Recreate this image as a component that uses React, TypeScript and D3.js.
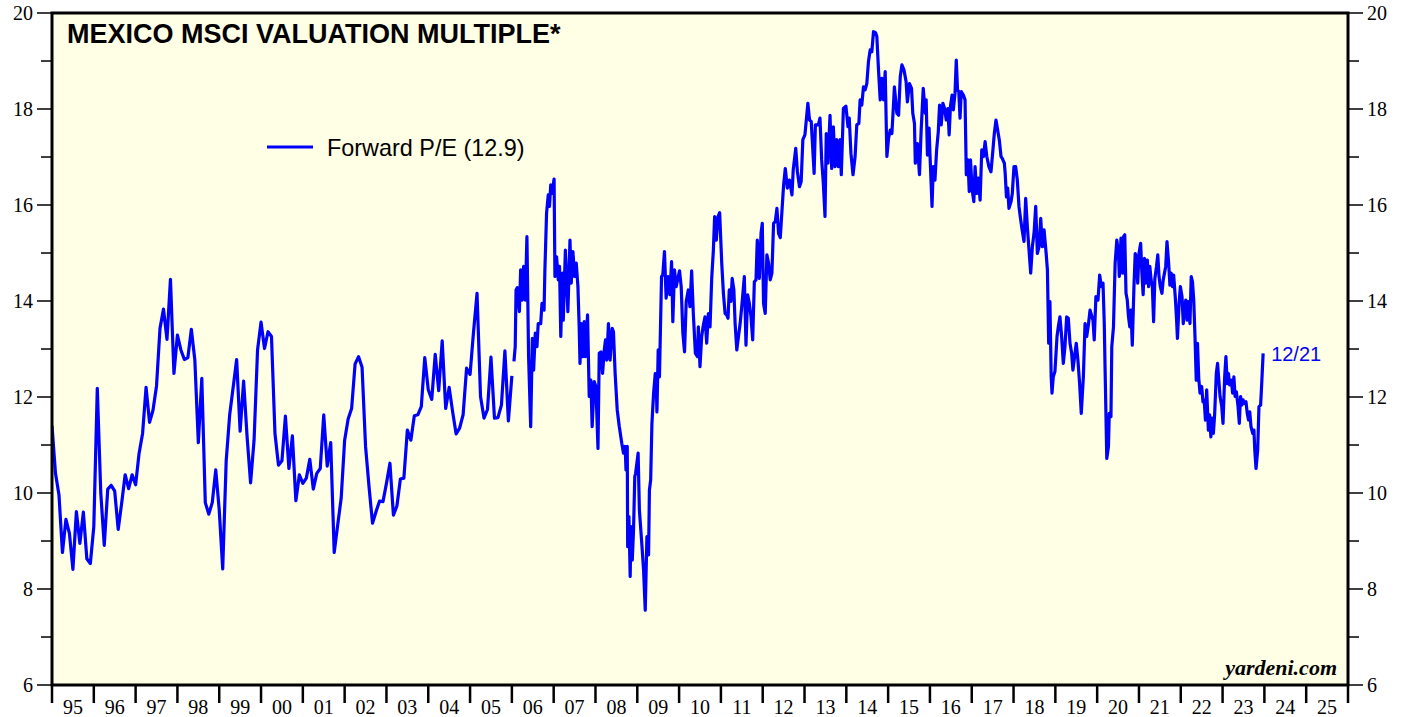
import React from 'react';
import * as d3 from 'd3';

// Monthly forward P/E, Jan 1995 .. Jan 2006
const monthlyPE = [
  11.40, 10.41, 9.96, 8.76, 9.45, 9.16, 8.41, 9.61, 8.95, 9.60, 8.63, 8.53, // 1995
  9.30, 12.18, 10.00, 8.91, 10.08, 10.16, 10.04, 9.24, 9.79, 10.38, 10.09, 10.38, // 1996
  10.17, 10.83, 11.24, 12.20, 11.47, 11.73, 12.23, 13.43, 13.83, 13.20, 14.45, 12.49, // 1997
  13.29, 12.98, 12.78, 12.82, 13.41, 12.77, 11.05, 12.39, 9.80, 9.56, 9.80, 10.48, // 1998
  9.65, 8.42, 10.67, 11.63, 12.20, 12.78, 11.29, 12.33, 11.17, 10.21, 11.10, 12.98, // 1999
  13.56, 13.01, 13.36, 13.26, 11.24, 10.58, 10.67, 11.60, 10.51, 11.19, 9.84, 10.38, // 2000
  10.20, 10.31, 10.70, 10.08, 10.41, 10.51, 11.63, 10.56, 11.05, 8.76, 9.33, 9.89, // 2001
  11.10, 11.54, 11.76, 12.69, 12.84, 12.62, 10.97, 10.13, 9.37, 9.61, 9.83, 9.82, // 2002
  10.20, 10.62, 9.54, 9.73, 10.29, 10.31, 11.31, 11.10, 11.61, 11.63, 11.80, 12.82, // 2003
  12.15, 11.95, 12.89, 12.13, 13.17, 11.76, 12.20, 11.69, 11.23, 11.35, 11.63, 12.60, // 2004
  12.47, 13.36, 14.16, 12.01, 11.56, 11.74, 12.83, 11.56, 11.57, 11.83, 12.96, 11.50, // 2005
  12.44,
];
const monthlyStart = 1995;

// Weekly forward P/E from 2006 on: [decimal year, value]
const weeklyPE: [number, number][] = [
  [2006.05, 12.74], [2006.08, 13.05], [2006.10, 14.23], [2006.13, 14.28], [2006.18, 13.78], [2006.21, 14.65],
  [2006.25, 14.02], [2006.28, 14.72], [2006.32, 14.02], [2006.36, 15.34], [2006.40, 12.84], [2006.45, 11.38],
  [2006.49, 13.22], [2006.52, 12.56], [2006.56, 13.33], [2006.60, 13.05], [2006.63, 13.53], [2006.69, 13.53],
  [2006.72, 13.95], [2006.77, 13.81], [2006.79, 14.65], [2006.83, 15.83], [2006.87, 16.21], [2006.90, 15.97],
  [2006.93, 16.42], [2006.96, 16.24], [2007.01, 16.54], [2007.03, 14.51], [2007.07, 14.92], [2007.11, 14.44],
  [2007.14, 14.72], [2007.17, 13.26], [2007.21, 14.58], [2007.23, 13.60], [2007.28, 15.06], [2007.34, 13.78],
  [2007.39, 15.27], [2007.42, 14.37], [2007.46, 15.03], [2007.50, 14.51], [2007.54, 14.79], [2007.58, 14.30],
  [2007.61, 13.46], [2007.63, 12.70], [2007.66, 13.53], [2007.70, 12.84], [2007.73, 13.57], [2007.76, 12.84],
  [2007.81, 13.71], [2007.85, 12.01], [2007.89, 12.35], [2007.92, 11.38], [2007.97, 12.32], [2008.01, 12.22],
  [2008.06, 10.93], [2008.09, 12.91], [2008.13, 12.94], [2008.17, 12.49], [2008.21, 12.98], [2008.24, 13.19],
  [2008.27, 12.77], [2008.31, 13.53], [2008.35, 12.77], [2008.40, 13.43], [2008.43, 13.36], [2008.47, 12.49],
  [2008.52, 11.73], [2008.57, 11.38], [2008.63, 11.03], [2008.67, 10.83], [2008.71, 10.97], [2008.73, 10.48],
  [2008.76, 10.97], [2008.77, 8.88], [2008.80, 9.51], [2008.83, 8.26], [2008.85, 9.30], [2008.88, 8.60],
  [2008.91, 9.23], [2008.94, 10.34], [2008.96, 10.41], [2009.02, 10.83], [2009.05, 9.65], [2009.11, 8.92],
  [2009.15, 8.40], [2009.19, 7.56], [2009.23, 9.09], [2009.27, 8.71], [2009.29, 10.06], [2009.32, 10.27],
  [2009.35, 11.45], [2009.39, 12.08], [2009.43, 12.49], [2009.45, 12.42], [2009.47, 11.69], [2009.50, 12.98],
  [2009.53, 12.42], [2009.58, 14.51], [2009.61, 14.54], [2009.65, 15.03], [2009.69, 14.06], [2009.74, 14.51],
  [2009.78, 14.13], [2009.82, 14.82], [2009.85, 13.57], [2009.89, 14.65], [2009.93, 14.30], [2010.01, 14.63],
  [2010.05, 14.30], [2010.09, 13.33], [2010.13, 12.94], [2010.17, 13.99], [2010.22, 14.23], [2010.26, 13.88],
  [2010.30, 14.63], [2010.34, 13.74], [2010.39, 12.91], [2010.44, 12.84], [2010.46, 13.46], [2010.50, 12.63],
  [2010.54, 13.26], [2010.58, 13.50], [2010.62, 13.67], [2010.66, 13.12], [2010.70, 13.74], [2010.74, 13.46],
  [2010.78, 14.47], [2010.82, 15.06], [2010.85, 15.76], [2010.89, 15.27], [2010.93, 15.76], [2010.97, 15.84],
  [2011.02, 14.79], [2011.06, 14.16], [2011.10, 13.74], [2011.14, 13.71], [2011.17, 13.64], [2011.20, 14.23],
  [2011.24, 13.99], [2011.27, 14.47], [2011.31, 14.23], [2011.34, 13.53], [2011.38, 12.98], [2011.42, 13.26],
  [2011.46, 13.53], [2011.51, 13.99], [2011.56, 14.51], [2011.60, 13.08], [2011.64, 14.13], [2011.68, 13.95],
  [2011.72, 13.67], [2011.76, 13.19], [2011.80, 14.40], [2011.84, 14.44], [2011.87, 15.27], [2011.92, 14.47],
  [2011.96, 15.41], [2011.99, 15.62], [2012.02, 13.95], [2012.06, 13.74], [2012.10, 14.96], [2012.14, 14.79],
  [2012.18, 14.44], [2012.22, 14.58], [2012.26, 15.62], [2012.30, 15.65], [2012.34, 15.93], [2012.38, 15.41],
  [2012.42, 15.32], [2012.50, 16.42], [2012.54, 16.76], [2012.59, 16.35], [2012.64, 16.52], [2012.70, 16.21],
  [2012.73, 16.73], [2012.79, 17.18], [2012.83, 16.69], [2012.88, 16.38], [2012.92, 16.49], [2012.96, 17.36],
  [2013.01, 17.46], [2013.08, 18.12], [2013.12, 17.77], [2013.16, 17.74], [2013.19, 17.28], [2013.23, 16.66],
  [2013.26, 17.67], [2013.33, 17.67], [2013.37, 17.81], [2013.41, 16.94], [2013.45, 16.45], [2013.49, 15.76],
  [2013.52, 17.49], [2013.56, 16.87], [2013.61, 17.87], [2013.65, 16.76], [2013.69, 17.63], [2013.73, 16.80],
  [2013.77, 17.36], [2013.81, 16.80], [2013.85, 17.36], [2013.88, 16.63], [2013.93, 18.01], [2013.99, 18.06],
  [2014.04, 17.63], [2014.07, 17.81], [2014.11, 17.08], [2014.16, 16.63], [2014.21, 17.01], [2014.25, 17.67],
  [2014.30, 17.70], [2014.33, 18.19], [2014.37, 18.08], [2014.41, 18.46], [2014.45, 18.40], [2014.49, 18.53],
  [2014.53, 18.99], [2014.57, 19.23], [2014.61, 19.19], [2014.65, 19.61], [2014.70, 19.59], [2014.73, 19.51],
  [2014.77, 18.81], [2014.81, 18.19], [2014.85, 18.64], [2014.89, 18.19], [2014.93, 18.78], [2014.97, 17.01],
  [2015.01, 17.39], [2015.05, 17.56], [2015.09, 17.49], [2015.13, 18.12], [2015.15, 18.46], [2015.21, 17.91],
  [2015.25, 17.87], [2015.29, 18.67], [2015.33, 18.92], [2015.38, 18.81], [2015.43, 18.57], [2015.46, 18.15],
  [2015.51, 18.53], [2015.56, 18.43], [2015.59, 17.91], [2015.63, 17.70], [2015.65, 16.87], [2015.70, 17.28],
  [2015.75, 16.63], [2015.79, 17.56], [2015.84, 18.43], [2015.89, 17.91], [2015.91, 18.19], [2015.94, 17.04],
  [2015.98, 17.60], [2016.00, 17.08], [2016.05, 15.97], [2016.08, 16.80], [2016.12, 16.52], [2016.16, 17.15],
  [2016.20, 17.53], [2016.23, 18.08], [2016.27, 17.67], [2016.31, 18.12], [2016.35, 18.01], [2016.39, 17.77],
  [2016.43, 18.01], [2016.46, 17.46], [2016.49, 18.05], [2016.53, 18.29], [2016.56, 17.98], [2016.60, 18.33],
  [2016.63, 19.02], [2016.66, 18.40], [2016.69, 18.36], [2016.72, 17.81], [2016.75, 18.36], [2016.80, 18.29],
  [2016.84, 18.19], [2016.87, 16.63], [2016.91, 16.94], [2016.94, 16.28], [2016.97, 16.94], [2017.01, 16.31],
  [2017.05, 16.07], [2017.08, 16.80], [2017.12, 16.24], [2017.16, 16.56], [2017.20, 16.10], [2017.24, 17.15],
  [2017.28, 17.01], [2017.32, 17.32], [2017.36, 17.01], [2017.41, 16.80], [2017.46, 16.69], [2017.50, 17.08],
  [2017.54, 17.49], [2017.58, 17.77], [2017.62, 17.56], [2017.66, 17.35], [2017.70, 17.01], [2017.73, 16.97],
  [2017.78, 16.87], [2017.80, 16.66], [2017.83, 16.17], [2017.86, 16.35], [2017.89, 15.93], [2017.94, 16.07],
  [2017.97, 16.24], [2018.01, 16.80], [2018.05, 16.80], [2018.09, 16.52], [2018.13, 15.97], [2018.16, 15.76],
  [2018.20, 15.51], [2018.25, 15.24], [2018.29, 16.14], [2018.33, 15.55], [2018.37, 15.06], [2018.41, 14.58],
  [2018.45, 15.13], [2018.49, 15.41], [2018.53, 15.97], [2018.57, 14.99], [2018.61, 15.13], [2018.65, 15.72],
  [2018.69, 15.13], [2018.73, 15.48], [2018.78, 14.99], [2018.81, 14.65], [2018.84, 13.12], [2018.87, 13.99],
  [2018.90, 12.42], [2018.92, 12.08], [2018.95, 12.42], [2018.99, 12.53], [2019.04, 13.26], [2019.07, 13.46],
  [2019.11, 13.67], [2019.15, 13.26], [2019.19, 12.70], [2019.23, 13.05], [2019.27, 13.67], [2019.31, 13.64],
  [2019.35, 13.12], [2019.39, 12.91], [2019.42, 12.56], [2019.46, 12.84], [2019.50, 13.12], [2019.54, 12.77],
  [2019.58, 12.28], [2019.62, 11.66], [2019.67, 12.42], [2019.71, 13.53], [2019.75, 13.26], [2019.79, 13.50],
  [2019.83, 13.81], [2019.90, 13.60], [2019.93, 13.19], [2019.97, 14.09], [2020.02, 14.02], [2020.06, 14.54],
  [2020.10, 14.30], [2020.14, 14.37], [2020.17, 13.53], [2020.19, 12.56], [2020.23, 10.72], [2020.27, 10.97],
  [2020.29, 11.66], [2020.33, 11.59], [2020.35, 13.05], [2020.39, 13.46], [2020.43, 14.79], [2020.47, 15.27],
  [2020.51, 14.99], [2020.53, 14.51], [2020.57, 15.31], [2020.61, 14.58], [2020.63, 15.34], [2020.66, 15.38],
  [2020.69, 14.16], [2020.72, 14.02], [2020.75, 13.67], [2020.78, 13.46], [2020.81, 13.81], [2020.84, 13.08],
  [2020.88, 14.30], [2020.91, 14.99], [2020.94, 14.92], [2020.97, 14.37], [2021.00, 14.99], [2021.04, 15.20],
  [2021.07, 14.58], [2021.10, 14.13], [2021.13, 14.89], [2021.16, 14.37], [2021.20, 14.85], [2021.23, 14.30],
  [2021.26, 14.72], [2021.29, 14.44], [2021.32, 14.30], [2021.35, 13.57], [2021.38, 14.47], [2021.42, 14.72],
  [2021.45, 14.96], [2021.48, 14.51], [2021.51, 14.30], [2021.55, 14.16], [2021.58, 14.44], [2021.61, 14.58],
  [2021.64, 14.72], [2021.67, 15.24], [2021.71, 14.79], [2021.74, 14.33], [2021.77, 14.58], [2021.80, 14.30],
  [2021.83, 14.54], [2021.87, 14.06], [2021.90, 13.60], [2021.92, 13.22], [2021.96, 13.95], [2021.99, 14.30],
  [2022.03, 14.09], [2022.06, 13.53], [2022.09, 13.85], [2022.12, 14.02], [2022.15, 13.60], [2022.18, 13.99],
  [2022.22, 13.53], [2022.25, 14.51], [2022.28, 14.40], [2022.31, 14.02], [2022.34, 13.26], [2022.37, 12.35],
  [2022.40, 13.12], [2022.43, 12.39], [2022.46, 12.08], [2022.50, 12.22], [2022.53, 11.90], [2022.56, 11.94],
  [2022.59, 11.52], [2022.62, 12.15], [2022.66, 11.31], [2022.69, 11.63], [2022.72, 11.17], [2022.75, 11.56],
  [2022.78, 11.24], [2022.81, 11.63], [2022.85, 12.49], [2022.88, 12.70], [2022.91, 12.35], [2022.94, 12.01],
  [2022.98, 11.80], [2023.01, 11.45], [2023.05, 12.42], [2023.08, 12.84], [2023.11, 12.28], [2023.14, 12.49],
  [2023.17, 12.25], [2023.21, 12.35], [2023.24, 12.08], [2023.27, 12.42], [2023.30, 12.01], [2023.33, 12.11],
  [2023.37, 11.80], [2023.40, 11.45], [2023.43, 12.01], [2023.46, 11.83], [2023.49, 11.94], [2023.52, 11.87],
  [2023.56, 11.90], [2023.59, 11.66], [2023.62, 11.52], [2023.65, 11.69], [2023.68, 11.38], [2023.72, 11.24],
  [2023.75, 11.31], [2023.77, 10.90], [2023.80, 10.51], [2023.84, 10.90], [2023.87, 11.80], [2023.91, 11.83],
  [2023.94, 12.35], [2023.97, 12.91],
];

const yearLabels = d3.range(1995, 2026).map(y => String(y % 100).padStart(2, '0'));
const yTicks = d3.range(6, 21, 2);
const yMinor = d3.range(7, 20, 2);

const title = 'MEXICO MSCI VALUATION MULTIPLE*';
const legendLabel = 'Forward P/E (12.9)';
const lastLabel = '12/21';

const W = 1407;
const H = 717;
const margin = { top: 13, right: 59, bottom: 32, left: 52 };

export default function App() {
  const x = d3.scaleLinear().domain([1995, 2026]).range([margin.left, W - margin.right]);
  const y = d3.scaleLinear().domain([6, 20]).range([H - margin.bottom, margin.top]);

  const line = d3.line<[number, number]>()
    .x(d => x(d[0]))
    .y(d => y(d[1]));

  const monthly: [number, number][] = monthlyPE.map((v, i) => [monthlyStart + i / 12, v]);

  const left = x.range()[0];
  const right = x.range()[1];
  const top = y.range()[1];
  const bottom = y.range()[0];
  const serif = '"Liberation Serif", "Times New Roman", serif';
  const sans = '"Liberation Sans", Arial, sans-serif';
  const blue = '#0000ff';
  const last = weeklyPE[weeklyPE.length - 1];

  return (
    <svg width={W} height={H} style={{ position: 'absolute', left: 0, top: 0, background: '#fff' }}>
      <defs>
        <clipPath id="plot">
          <rect x={left} y={top} width={right - left} height={bottom - top} />
        </clipPath>
      </defs>
      <rect x={left} y={top} width={right - left} height={bottom - top} fill="#ffffe6" />

      {/* y ticks + labels, both sides */}
      {yTicks.map(t => (
        <g key={'yt' + t}>
          <line x1={left - 15} x2={left} y1={y(t)} y2={y(t)} stroke="#000" strokeWidth={1.5} />
          <line x1={right} x2={right + 15} y1={y(t)} y2={y(t)} stroke="#000" strokeWidth={1.5} />
          <text x={left - 19} y={y(t)} textAnchor="end" dominantBaseline="central" fontFamily={serif} fontSize={20}>{t}</text>
          <text x={right + 19} y={y(t)} textAnchor="start" dominantBaseline="central" fontFamily={serif} fontSize={20}>{t}</text>
        </g>
      ))}
      {yMinor.map(t => (
        <g key={'ym' + t}>
          <line x1={left - 11} x2={left} y1={y(t)} y2={y(t)} stroke="#000" strokeWidth={1.5} />
          <line x1={right} x2={right + 11} y1={y(t)} y2={y(t)} stroke="#000" strokeWidth={1.5} />
        </g>
      ))}

      {/* x ticks + year labels */}
      {d3.range(1995, 2027).map(yr => (
        <line key={'xt' + yr} x1={x(yr)} x2={x(yr)} y1={bottom} y2={bottom + 18} stroke="#000" strokeWidth={2.5} />
      ))}
      {yearLabels.map((lab, i) => (
        <text key={'xl' + lab} x={x(1995 + i + 0.5)} y={bottom + 29} textAnchor="middle" fontFamily={serif} fontSize={20}>{lab}</text>
      ))}

      <g clipPath="url(#plot)">
        <path d={line(monthly) || ''} fill="none" stroke={blue} strokeWidth={3.2} strokeLinejoin="round" />
        <path d={line(weeklyPE) || ''} fill="none" stroke={blue} strokeWidth={3.2} strokeLinejoin="round" />
      </g>

      <rect x={left} y={top} width={right - left} height={bottom - top} fill="none" stroke="#000" strokeWidth={3} />

      <text x={67} y={43} fontFamily={sans} fontWeight="bold" fontSize={27}>{title}</text>

      <line x1={267} x2={313} y1={147} y2={147} stroke={blue} strokeWidth={3.2} />
      <text x={327} y={156} fontFamily={sans} fontSize={23.4}>{legendLabel}</text>

      <text x={x(last[0]) + 8} y={y(last[1]) + 8} fontFamily={sans} fontSize={20} fill={blue}>{lastLabel}</text>

      <text x={right - 11} y={bottom - 10} textAnchor="end" fontFamily={serif} fontWeight="bold" fontStyle="italic" fontSize={22}>yardeni.com</text>
    </svg>
  );
}
